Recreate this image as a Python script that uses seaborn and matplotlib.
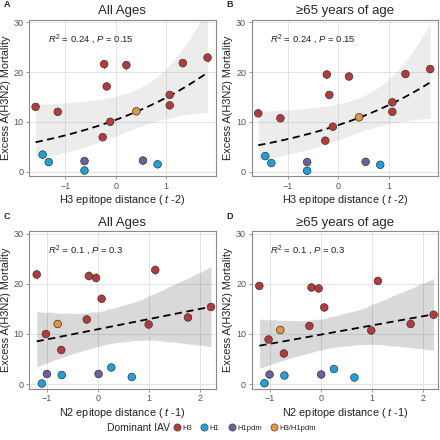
import matplotlib
matplotlib.use("Agg")
import matplotlib.pyplot as plt
import matplotlib.lines as mlines
import numpy as np
import pandas as pd
import seaborn as sns

# H3 epitope distance (t-2) panels A/B
h3_dist = [-1.59, -1.15, -1.45, -1.33, -0.62, -0.62, -0.23, -0.18, -0.26, -0.11,
           0.21, 0.41, 0.54, 0.83, 1.07, 1.07, 1.33, 1.82]
h3_type = ['H3', 'H3', 'H1', 'H1', 'H1pdm', 'H1', 'H3', 'H3', 'H3', 'H3',
           'H3', 'H3/H1pdm', 'H1pdm', 'H1', 'H3', 'H3', 'H3', 'H3']
h3_all = [13.0, 12.0, 3.4, 1.9, 2.1, 0.2, 21.6, 17.1, 6.9, 10.0,
          21.4, 12.1, 2.2, 1.45, 15.4, 13.3, 21.8, 22.9]
h3_all_err = [0, 0, 0, 0, 0, 0, 0.9, 0.6, 0, 0,
              0.9, 0, 0, 0, 0.5, 0, 0.8, 0.9]
h3_65 = [11.7, 10.7, 3.1, 1.7, 1.9, 0.15, 19.5, 15.4, 6.2, 9.0,
         19.1, 10.9, 1.95, 1.35, 13.9, 12.0, 19.6, 20.6]
h3_65_err = [0, 0, 0, 0, 0, 0, 0.6, 0.5, 0, 0,
             0.6, 0, 0, 0, 0.4, 0, 0.6, 0.7]

# N2 epitope distance (t-1) panels C/D
n2_dist = [-1.2, -1.02, -0.79, -0.72, -1.0, -1.1, -0.71, -0.22, -0.18, -0.04,
           0.07, 0.01, 0.26, 0.66, 0.99, 1.12, 1.76, 2.21]
n2_type = ['H3', 'H3', 'H3/H1pdm', 'H3', 'H1pdm', 'H1', 'H1', 'H3', 'H3', 'H3',
           'H3', 'H1pdm', 'H1', 'H1', 'H3', 'H3', 'H3', 'H3']
n2_all = [21.9, 10.0, 12.0, 6.8, 2.0, 0.1, 1.8, 12.9, 21.6, 21.2,
          17.05, 2.0, 3.3, 1.4, 11.9, 22.8, 13.3, 15.4]
n2_all_err = [0.9, 0, 0, 0, 0, 0, 0, 0, 0.9, 0.9,
              0.5, 0, 0, 0, 0, 1.0, 0, 0.4]
n2_65 = [19.6, 8.9, 10.8, 6.1, 1.9, 0.15, 1.7, 11.6, 19.3, 19.1,
         15.3, 1.9, 3.0, 1.3, 10.7, 20.6, 12.0, 13.85]
n2_65_err = [0.6, 0, 0, 0, 0, 0, 0, 0, 0.6, 0.6,
             0.4, 0, 0, 0, 0, 0.6, 0, 0.4]

subtypes = ['H3', 'H1', 'H1pdm', 'H3/H1pdm']
palette = {'H3': '#B83A36', 'H1': '#1BA3DC', 'H1pdm': '#6C5F9E', 'H3/H1pdm': '#E3963E'}


def exp_fit(x, y):
    # gaussian glm with log link, fitted by gauss-newton; band on link scale
    x = np.asarray(x, float)
    y = np.asarray(y, float)
    X = np.column_stack([np.ones_like(x), x])
    b = np.polyfit(x, np.log(y + 1), 1)[::-1]
    for _ in range(100):
        mu = np.exp(X @ b)
        J = mu[:, None] * X
        step = np.linalg.lstsq(J, y - mu, rcond=None)[0]
        b = b + step
        if np.abs(step).max() < 1e-10:
            break
    mu = np.exp(X @ b)
    J = mu[:, None] * X
    s2 = ((y - mu) ** 2).sum() / (len(x) - 2)
    cov = s2 * np.linalg.inv(J.T @ J)
    grid = np.linspace(x.min(), x.max(), 100)
    G = np.column_stack([np.ones_like(grid), grid])
    eta = G @ b
    se = np.sqrt(np.einsum('ij,jk,ik->i', G, cov, G))
    return grid, np.exp(eta), np.exp(eta - 2.12 * se), np.exp(eta + 2.12 * se)


sns.set_style("white")
plt.rcParams['font.family'] = ['Liberation Sans', 'DejaVu Sans']
plt.rcParams['mathtext.fontset'] = 'custom'
plt.rcParams['mathtext.rm'] = 'Liberation Sans'
plt.rcParams['mathtext.it'] = 'Liberation Sans:italic'

fig = plt.figure(figsize=(4.4, 4.4), dpi=100)
positions = [[0.066, 0.60, 0.424, 0.355], [0.572, 0.60, 0.424, 0.355],
             [0.066, 0.117, 0.424, 0.357], [0.572, 0.117, 0.424, 0.357]]

panels = [
    ('A', 'All Ages', h3_dist, h3_all, h3_all_err, h3_type, 'exp', 'H3 epitope distance ( $t$ -2)', '$R^2$ = 0.24 , $P$ = 0.15'),
    ('B', '\u226565 years of age', h3_dist, h3_65, h3_65_err, h3_type, 'exp', 'H3 epitope distance ( $t$ -2)', '$R^2$ = 0.24 , $P$ = 0.15'),
    ('C', 'All Ages', n2_dist, n2_all, n2_all_err, n2_type, 'lin', 'N2 epitope distance ( $t$ -1)', '$R^2$ = 0.1 , $P$ = 0.3'),
    ('D', '\u226565 years of age', n2_dist, n2_65, n2_65_err, n2_type, 'lin', 'N2 epitope distance ( $t$ -1)', '$R^2$ = 0.1 , $P$ = 0.3'),
]

dash = (0, (4, 2.5))
for pos, (lab, title, xs, ys, errs, types, model, xlab, note) in zip(positions, panels):
    ax = fig.add_axes(pos)
    df = pd.DataFrame({'x': xs, 'y': ys, 'err': errs, 'type': types})
    if model == 'exp':
        gx, gy, lo, hi = exp_fit(xs, ys)
        ax.fill_between(gx, lo, hi, color='#9a9a9a', alpha=0.18, lw=0)
        sns.lineplot(x=gx, y=gy, color='black', ls=dash, lw=1.3, ax=ax)
    else:
        sns.regplot(data=df, x='x', y='y', scatter=False, ci=95, seed=3,
                    color='#9a9a9a', line_kws=dict(color='black', ls=dash, lw=1.3), ax=ax)
    e = df[df['err'] > 0]
    ax.errorbar(e['x'], e['y'], yerr=e['err'], fmt='none', ecolor='#D46A6A', elinewidth=0.8, zorder=3)
    sns.scatterplot(data=df, x='x', y='y', hue='type', palette=palette, hue_order=subtypes,
                    s=30, edgecolor='#333333', linewidth=0.5, legend=False, zorder=4, ax=ax)
    ax.set_ylim(-0.9, 30.5)
    ax.set_yticks([0, 10, 20, 30])
    ax.set_xticks([-1, 0, 1, 2])
    if model == 'exp':
        ax.set_xlim(-1.72, 1.98)
    else:
        ax.set_xlim(-1.35, 2.3)
    ax.grid(True, color='#E4E4E4', lw=0.7)
    ax.set_axisbelow(True)
    for sp in ax.spines.values():
        sp.set_color('#8a8a8a')
        sp.set_linewidth(0.8)
    ax.tick_params(axis='both', labelsize=6.5, labelcolor='#555555', color='#8a8a8a',
                   length=2.5, width=0.6, pad=1.5, bottom=True, left=True)
    ax.set_xlabel(xlab, fontsize=7.8, color='#222222', labelpad=2)
    ax.set_ylabel('Excess A(H3N2) Mortality', fontsize=7.8, color='#222222', labelpad=2)
    ax.set_title(title, fontsize=9.5, pad=4)
    ax.text(0.1, 0.86, note, transform=ax.transAxes, fontsize=6.8, color='#222222')
    fig.text(pos[0] - 0.058, pos[1] + pos[3] + 0.028, lab, fontsize=6.5, fontweight='bold')

handles = [mlines.Line2D([], [], marker='o', ls='none', markersize=5.2, markerfacecolor=palette[s],
                         markeredgecolor='#333333', markeredgewidth=0.4, label=s) for s in subtypes]
fig.text(0.243, 0.027, 'Dominant IAV', fontsize=7.5, va='center')
fig.legend(handles=handles, loc='center left', bbox_to_anchor=(0.385, 0.027), ncol=4, frameon=False,
           fontsize=5.5, handletextpad=0.1, columnspacing=1.0, handlelength=1.2, borderaxespad=0)

fig.savefig('out.png', dpi=100)
